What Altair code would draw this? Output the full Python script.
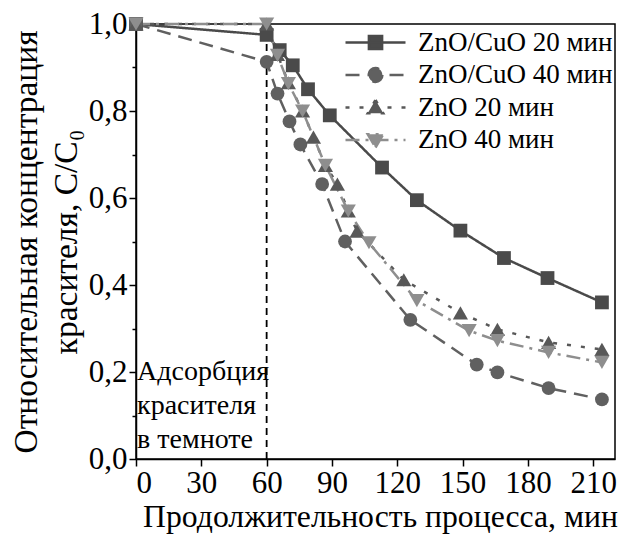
import altair as alt
import pandas as pd

# Photocatalytic decolourisation: relative dye concentration vs. time
series_names = ["ZnO/CuO 20 мин", "ZnO/CuO 40 мин", "ZnO 20 мин", "ZnO 40 мин"]

t_zc20 = [0, 60, 66, 72, 79, 89, 113, 129, 149, 169, 189, 214]
c_zc20 = [1.0, 0.975, 0.94, 0.905, 0.85, 0.79, 0.67, 0.595, 0.525, 0.462, 0.416, 0.36]

t_zc40 = [0, 60, 65, 70.5, 75.5, 85.5, 96, 126, 156.5, 166, 189.5, 214]
c_zc40 = [1.0, 0.913, 0.84, 0.776, 0.723, 0.632, 0.50, 0.32, 0.217, 0.199, 0.163, 0.137]

t_z20 = [0, 60, 65, 70, 76.5, 81.5, 87, 92.5, 97.5, 101.5, 123, 149, 166, 189.5, 214]
c_z20 = [1.0, 1.0, 0.93, 0.865, 0.80, 0.74, 0.675, 0.632, 0.57, 0.524, 0.412, 0.336, 0.298, 0.268, 0.252]

t_z40 = [0, 60, 65, 70, 76.5, 87, 97.5, 107, 129, 153, 166, 189.5, 214]
c_z40 = [1.0, 1.0, 0.928, 0.863, 0.80, 0.675, 0.57, 0.497, 0.364, 0.295, 0.272, 0.245, 0.222]

dark_end = [60]          # end of the dark adsorption stage, min
dark_note = ["Адсорбция", "красителя", "в темноте"]

colors = ["#4a4a4a", "#606060", "#585858", "#8e8e8e"]
dashes = [[1, 0], [14, 8], [4, 10], [14, 6, 3, 6]]
shapes = ["square", "circle", "triangle-up", "triangle-down"]
sizes = [190, 190, 230, 230]

# legend glyphs: a line segment (4 units long) with the marker in its middle
legend_paths = [
    "M-2,0L2,0M-0.44,-0.44L0.44,-0.44L0.44,0.44L-0.44,0.44Z",
    "M-2,0L2,0M0.46,0A0.46,0.46,0,1,1,-0.46,0A0.46,0.46,0,1,1,0.46,0Z",
    "M-2,0L2,0M0,-0.5L0.52,0.38L-0.52,0.38Z",
    "M-2,0L2,0M0,0.5L0.52,-0.38L-0.52,-0.38Z",
]

frames = []
for name, t, c in [(series_names[0], t_zc20, c_zc20), (series_names[1], t_zc40, c_zc40),
                   (series_names[2], t_z20, c_z20), (series_names[3], t_z40, c_z40)]:
    frames.append(pd.DataFrame({"series": name, "t": t, "c": c}))
df = pd.concat(frames, ignore_index=True)

FONT = "Liberation Serif"

x_enc = alt.X(
    "t:Q",
    scale=alt.Scale(domain=[0, 220], nice=False),
    axis=alt.Axis(
        title="Продолжительность процесса, мин",
        values=list(range(0, 221, 15)),
        labelExpr="datum.value % 30 === 0 ? datum.label : ''",
        tickSize={"condition": {"test": "datum.value % 30 === 0", "value": 7}, "value": 4},
        titlePadding=3,
        titleFontSize=31.7,
        titleX=244,
    ),
)
y_enc = alt.Y(
    "c:Q",
    scale=alt.Scale(domain=[0, 1.0], nice=False),
    axis=alt.Axis(
        title=["Относительная концентрация", "красителя, C/C₀"],
        values=[round(v * 0.1, 1) for v in range(0, 11)],
        labelExpr="round(datum.value * 10) % 2 === 0 ? replace(format(datum.value, '.1f'), '.', ',') : ''",
        tickSize={"condition": {"test": "round(datum.value * 10) % 2 === 0", "value": 7}, "value": 4},
        titlePadding=5,
        titleLineHeight=40,
        titleFontSize=33.5,
    ),
)

# one line layer and one marker layer per series
line_layers, point_layers = [], []
for i, (name, col, dsh, shp, sz) in enumerate(zip(series_names, colors, dashes, shapes, sizes)):
    base = alt.Chart(df).transform_filter(alt.datum.series == name)
    enc = dict(x=x_enc, y=y_enc) if i == 0 else dict(x="t:Q", y="c:Q")
    line_layers.append(
        base.mark_line(strokeWidth=2.5, color=col, strokeDash=dsh).encode(**enc)
    )
    point_layers.append(
        base.mark_point(filled=True, size=sz, opacity=1, shape=shp, color=col, clip=False)
        .encode(x="t:Q", y="c:Q")
    )

dark_rule = alt.Chart(pd.DataFrame({"t": dark_end})).mark_rule(
    color="black", strokeWidth=1.8, strokeDash=[7, 5]
).encode(x="t:Q", y=alt.datum(0), y2=alt.datum(1.0))

legend_src = pd.DataFrame({"series": series_names})
leg = alt.Legend(
    title=None, orient="none", legendX=223, legendY=2,
    labelFont=FONT, labelFontSize=27, labelColor="black", labelOffset=26, labelLimit=0,
    symbolSize=900, symbolStrokeWidth=2.5, rowPadding=2.5, symbolOpacity=1,
)
legend_layer = alt.Chart(legend_src).transform_filter("false").mark_point(filled=True).encode(
    x="t:Q",
    y="c:Q",
    fill=alt.Fill("series:N", scale=alt.Scale(domain=series_names, range=colors), legend=leg),
    stroke=alt.Stroke("series:N", scale=alt.Scale(domain=series_names, range=colors), legend=leg),
    strokeDash=alt.StrokeDash("series:N", scale=alt.Scale(domain=series_names, range=dashes), legend=leg),
    shape=alt.Shape("series:N", scale=alt.Scale(domain=series_names, range=legend_paths), legend=leg),
)

note = alt.Chart(pd.DataFrame({"t": [0.5], "c": [0.233], "txt": ["\n".join(dark_note)]})).mark_text(
    align="left", baseline="top", font=FONT, fontSize=28, lineHeight=34, lineBreak="\n", color="black"
).encode(x="t:Q", y="c:Q", text="txt:N")

chart = alt.layer(*line_layers, dark_rule, *point_layers, note, legend_layer).properties(
    width=479, height=435,
    autosize=alt.AutoSizeParams(type="none"),
    padding={"left": 136, "top": 24, "right": 7, "bottom": 85},
    background="white",
).configure_view(
    stroke="black", strokeWidth=1.5
).configure_axis(
    domainColor="black", domainWidth=1.5, tickColor="black", tickWidth=1.5,
    labelFont=FONT, labelFontSize=31, labelColor="black", labelPadding=2,
    titleFont=FONT, titleFontWeight="normal", titleColor="black",
    grid=False,
)

chart.save("out.html", embed_options={"renderer": "svg", "actions": False})
